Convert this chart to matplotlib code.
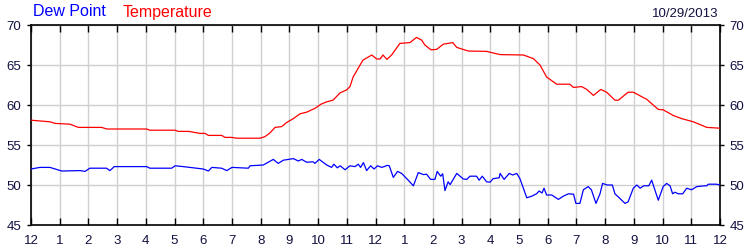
import matplotlib
matplotlib.use("Agg")
import matplotlib.pyplot as plt

plt.rcParams['font.family'] = ['Liberation Sans', 'DejaVu Sans']

# hours since midnight, temperature (F)
temp_hours = [0, 0.66, 0.84, 1.36, 1.65, 2.46, 2.64, 4.03, 4.14, 5.02, 5.13, 5.5,
              5.89, 6.06, 6.18, 6.64, 6.76, 6.99, 7.16, 7.98, 8.15, 8.32, 8.5, 8.73,
              8.9, 9.14, 9.37, 9.6, 9.9, 10.1, 10.3, 10.52, 10.76, 11.0, 11.11, 11.22,
              11.56, 11.87, 12.04, 12.16, 12.26, 12.4, 12.56, 12.85, 13.2, 13.43, 13.61,
              13.72, 13.93, 14.13, 14.36, 14.69, 14.83, 15.23, 15.87, 16.34, 17.15, 17.5,
              17.73, 17.96, 18.31, 18.77, 18.89, 19.18, 19.36, 19.59, 19.85, 20.05, 20.34,
              20.46, 20.8, 20.98, 21.45, 21.85, 22.02, 22.37, 22.66, 23.07, 23.54, 24]
temp_vals = [58.1, 57.9, 57.7, 57.6, 57.2, 57.2, 57.0, 57.0, 56.85, 56.85, 56.7, 56.7,
             56.45, 56.45, 56.2, 56.2, 55.95, 55.95, 55.85, 55.85, 56.05, 56.5, 57.2, 57.3,
             57.8, 58.3, 58.9, 59.1, 59.6, 60.1, 60.4, 60.6, 61.5, 61.9, 62.3, 63.5,
             65.6, 66.25, 65.75, 65.75, 66.25, 65.7, 66.25, 67.7, 67.8, 68.45, 68.1,
             67.5, 66.9, 66.95, 67.6, 67.8, 67.2, 66.75, 66.7, 66.3, 66.25, 65.8,
             65.0, 63.5, 62.6, 62.6, 62.2, 62.3, 61.95, 61.2, 61.95, 61.6, 60.6,
             60.6, 61.6, 61.6, 60.7, 59.45, 59.4, 58.7, 58.3, 57.9, 57.2, 57.1]

# hours since midnight, dew point (F)
dew_hours = [0, 0.31, 0.66, 1.07, 1.71, 1.88, 2.05, 2.63, 2.75, 2.84, 2.9, 4.03, 4.14,
             4.9, 5.02, 5.3, 6.0, 6.18, 6.3, 6.64, 6.82, 7.0, 7.57, 7.63, 8.09, 8.44,
             8.61, 8.79, 9.14, 9.31, 9.43, 9.6, 9.83, 9.89, 10.04, 10.3, 10.47, 10.55,
             10.67, 10.77, 10.94, 11.11, 11.29, 11.4, 11.48, 11.58, 11.69, 11.83, 11.95,
             12.07, 12.22, 12.41, 12.48, 12.62, 12.77, 12.91, 13.14, 13.32, 13.49, 13.67,
             13.78, 13.92, 14.07, 14.15, 14.27, 14.34, 14.42, 14.53, 14.6, 14.83, 15.06,
             15.18, 15.29, 15.52, 15.61, 15.72, 15.87, 15.99, 16.1, 16.31, 16.34, 16.48,
             16.66, 16.78, 16.92, 17.03, 17.27, 17.44, 17.61, 17.7, 17.8, 17.87, 17.96,
             18.14, 18.37, 18.54, 18.72, 18.9, 18.98, 19.12, 19.24, 19.41, 19.52, 19.68,
             19.82, 19.91, 20.07, 20.25, 20.34, 20.52, 20.69, 20.8, 20.98, 21.1, 21.22,
             21.34, 21.52, 21.62, 21.73, 21.85, 22.02, 22.14, 22.26, 22.35, 22.43, 22.55,
             22.7, 22.84, 23.01, 23.19, 23.47, 23.54, 23.59, 23.88, 24]
dew_vals = [52.0, 52.2, 52.2, 51.75, 51.8, 51.7, 52.1, 52.1, 51.8, 52.1, 52.3, 52.3, 52.1,
            52.1, 52.4, 52.3, 52.0, 51.75, 52.2, 52.1, 51.8, 52.2, 52.1, 52.4, 52.5, 53.2,
            52.7, 53.1, 53.3, 53.0, 53.2, 52.85, 52.9, 52.7, 53.2, 52.5, 52.2, 52.6,
            52.15, 52.4, 51.9, 52.4, 52.3, 52.6, 52.2, 52.8, 51.8, 52.4, 52.0,
            52.4, 52.2, 52.45, 52.4, 50.95, 51.7, 51.45, 50.6, 49.9, 51.55, 51.3,
            51.35, 50.7, 50.7, 51.7, 51.1, 51.4, 49.3, 50.4, 50.05, 51.45, 50.75,
            50.7, 51.1, 51.1, 50.6, 51.1, 50.4, 50.35, 50.8, 50.9, 51.45, 50.7,
            51.45, 51.25, 51.45, 50.8, 48.4, 48.6, 48.9, 49.25, 49.0, 49.6, 48.75,
            48.75, 48.2, 48.6, 48.9, 48.85, 47.7, 47.7, 49.4, 49.8, 49.4, 47.7,
            48.9, 50.2, 50.0, 50.0, 48.9, 48.3, 47.7, 47.9, 49.6, 50.0, 49.6,
            49.9, 49.9, 50.6, 49.4, 48.1, 49.8, 50.2, 49.9, 48.9, 49.1, 48.9,
            48.9, 49.6, 49.4, 49.8, 49.9, 49.9, 50.1, 50.1, 50.0]

hour_labels = ['12', '1', '2', '3', '4', '5', '6', '7', '8', '9', '10', '11',
               '12', '1', '2', '3', '4', '5', '6', '7', '8', '9', '10', '11', '12']
y_ticks = [45, 50, 55, 60, 65, 70]
date_text = '10/29/2013'

label_color = '#101040'

fig = plt.figure(figsize=(7.5, 2.5), dpi=100)
ax = fig.add_axes([31 / 750, 25 / 250, 689 / 750, 200 / 250])

ax.plot(temp_hours, temp_vals, color='#ff0000', lw=0.9, zorder=3)
ax.plot(dew_hours, dew_vals, color='#0000ff', lw=0.9, zorder=3)

ax.set_xlim(0, 24)
ax.set_ylim(45, 70)
ax.set_xticks(range(25))
ax.set_xticklabels(hour_labels)
ax.set_yticks(y_ticks)
ax.grid(True, color='#d0d0d0', lw=1.0, zorder=0)
ax.set_axisbelow(True)

for s in ax.spines.values():
    s.set_color('black')
    s.set_linewidth(1.2)

ax.tick_params(axis='x', direction='in', length=5, width=1, top=True, bottom=True,
               labelsize=9.5, labelcolor=label_color, pad=7)
ax.tick_params(axis='y', direction='out', length=0, width=1, left=True, right=True,
               labelleft=True, labelright=True, labelsize=9.5, labelcolor=label_color, pad=4)
ax.tick_params(axis='y', which='major', right=True, length=3)

fig.text(33 / 750, 1 - 12 / 250, 'Dew Point', color='#0000ff', fontsize=11.5, va='center', ha='left')
fig.text(123 / 750, 1 - 12 / 250, 'Temperature', color='#ff0000', fontsize=11.5, va='center', ha='left')
fig.text(718 / 750, 1 - 14 / 250, date_text, color=label_color, fontsize=9.5, va='center', ha='right')

fig.savefig('out.png', dpi=100)
plt.close(fig)
